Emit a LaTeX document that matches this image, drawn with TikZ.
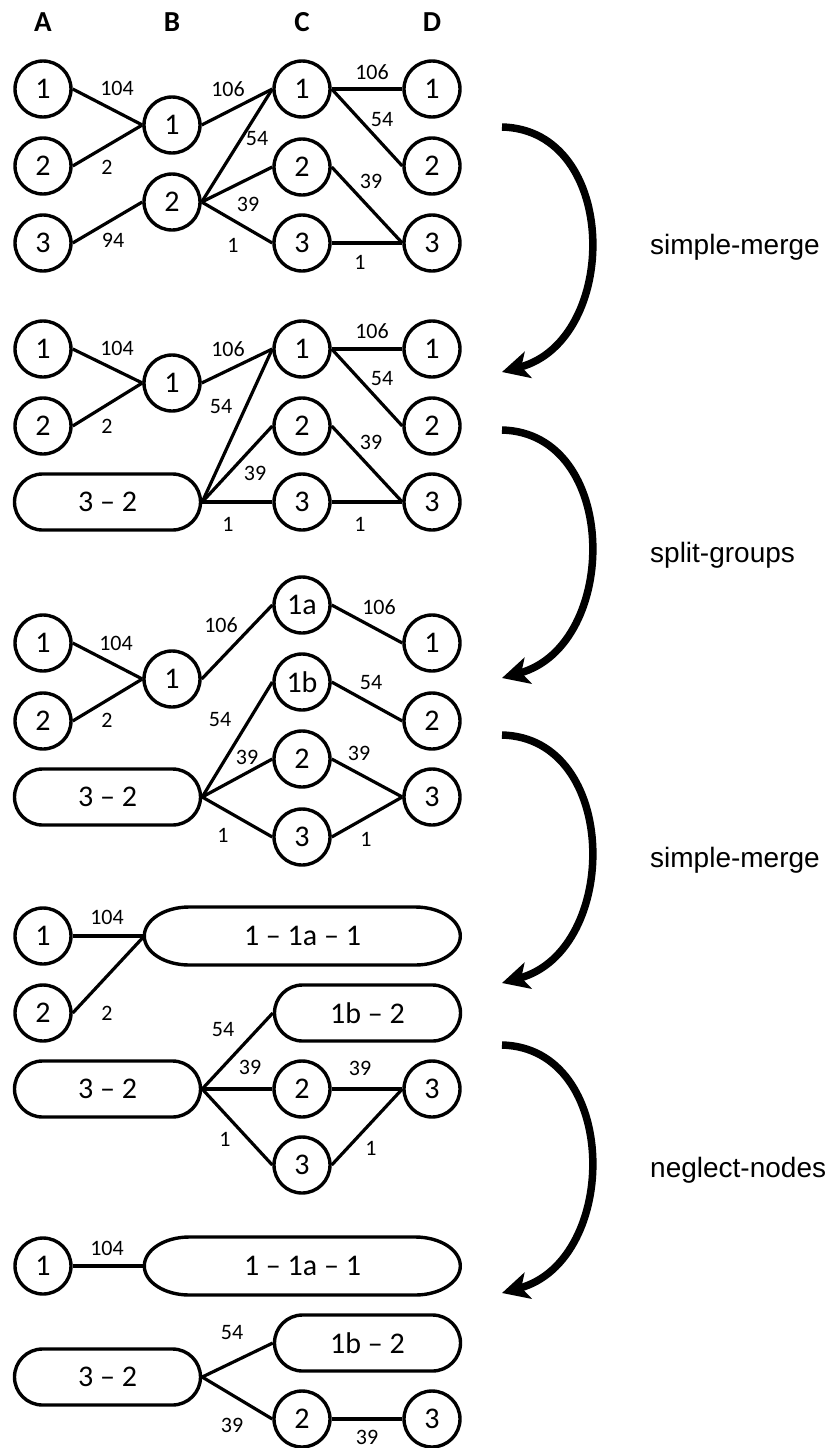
\documentclass[tikz,border=0pt]{standalone}
\usepackage{fontspec}
\setmainfont{Carlito}
\newfontfamily\arialfont{Liberation Sans}
\usetikzlibrary{arrows.meta}
\begin{document}
\begin{tikzpicture}[x=1pt,y=-1pt,
  every node/.style={inner sep=0pt},
  nd/.style={circle,draw,line width=3.4pt,minimum size=56pt,font=\fontsize{30}{32}\selectfont},
  grp/.style={rectangle,draw,line width=3.4pt,rounded corners=28pt,minimum width=186pt,minimum height=56pt,font=\fontsize{30}{32}\selectfont},
  longgrp/.style={rectangle,minimum width=316pt,minimum height=58pt,font=\fontsize{30}{32}\selectfont},
  hdr/.style={font=\bfseries\fontsize{29}{31}\selectfont},
  lbl/.style={font=\fontsize{22}{24}\selectfont},
  edge/.style={line width=3.2pt},
  outline/.style={line width=3.4pt},
  flow/.style={line width=7.5pt,-{Stealth[length=27pt,width=27pt,inset=7pt]}},
  oplabel/.style={anchor=west,font=\arialfont\fontsize{28}{30}\selectfont}
]
\useasboundingbox (0,0) rectangle (832,1448);

% headers
\node[hdr] (hA) at (43,22) {A};
\node[hdr] (hB) at (172,22) {B};
\node[hdr] (hC) at (302,22) {C};
\node[hdr] (hD) at (432,22) {D};

% ---------- panel 1 ----------
\node[nd] (p1a1) at (43,89) {1};
\node[nd] (p1a2) at (43,166) {2};
\node[nd] (p1a3) at (43,243) {3};
\node[nd] (p1b1) at (172,125) {1};
\node[nd] (p1b2) at (172,202) {2};
\node[nd] (p1c1) at (302,89) {1};
\node[nd] (p1c2) at (302,167) {2};
\node[nd] (p1c3) at (302,243) {3};
\node[nd] (p1d1) at (432,89) {1};
\node[nd] (p1d2) at (432,166) {2};
\node[nd] (p1d3) at (432,243) {3};
\draw[edge] (p1a1.east) -- (p1b1.west);
\draw[edge] (p1a2.east) -- (p1b1.west);
\draw[edge] (p1a3.east) -- (p1b2.west);
\draw[edge] (p1b1.east) -- (p1c1.west);
\draw[edge] (p1b2.east) -- (p1c1.west);
\draw[edge] (p1b2.east) -- (p1c2.west);
\draw[edge] (p1b2.east) -- (p1c3.west);
\draw[edge] (p1c1.east) -- (p1d1.west);
\draw[edge] (p1c1.east) -- (p1d2.west);
\draw[edge] (p1c2.east) -- (p1d3.west);
\draw[edge] (p1c3.east) -- (p1d3.west);
\node[lbl] (p1l1) at (117,88) {104};
\node[lbl] (p1l2) at (107,167) {2};
\node[lbl] (p1l3) at (113,240) {94};
\node[lbl] (p1l4) at (228,89) {106};
\node[lbl] (p1l5) at (257,139) {54};
\node[lbl] (p1l6) at (248,204) {39};
\node[lbl] (p1l7) at (233,245) {1};
\node[lbl] (p1l8) at (372,72) {106};
\node[lbl] (p1l9) at (382,120) {54};
\node[lbl] (p1l10) at (371,181) {39};
\node[lbl] (p1l11) at (360,262) {1};

% ---------- panel 2 ----------
\node[nd] (p2a1) at (43,349) {1};
\node[nd] (p2a2) at (43,426) {2};
\node[grp] (p2g) at (107.5,502) {3 – 2};
\node[nd] (p2b1) at (172,383) {1};
\node[nd] (p2c1) at (302,349) {1};
\node[nd] (p2c2) at (302,426) {2};
\node[nd] (p2c3) at (302,502) {3};
\node[nd] (p2d1) at (432,349) {1};
\node[nd] (p2d2) at (432,426) {2};
\node[nd] (p2d3) at (432,502) {3};
\draw[edge] (p2a1.east) -- (p2b1.west);
\draw[edge] (p2a2.east) -- (p2b1.west);
\draw[edge] (p2b1.east) -- (p2c1.west);
\draw[edge] (p2g.east) -- (p2c1.west);
\draw[edge] (p2g.east) -- (p2c2.west);
\draw[edge] (p2g.east) -- (p2c3.west);
\draw[edge] (p2c1.east) -- (p2d1.west);
\draw[edge] (p2c1.east) -- (p2d2.west);
\draw[edge] (p2c2.east) -- (p2d3.west);
\draw[edge] (p2c3.east) -- (p2d3.west);
\node[lbl] (p2l1) at (117,348) {104};
\node[lbl] (p2l2) at (107,426) {2};
\node[lbl] (p2l3) at (228,349) {106};
\node[lbl] (p2l4) at (221,407) {54};
\node[lbl] (p2l5) at (255,473) {39};
\node[lbl] (p2l6) at (228,524) {1};
\node[lbl] (p2l7) at (372,331) {106};
\node[lbl] (p2l8) at (382,379) {54};
\node[lbl] (p2l9) at (371,442) {39};
\node[lbl] (p2l10) at (360,524) {1};

% ---------- panel 3 ----------
\node[nd] (p3a1) at (43,643) {1};
\node[nd] (p3a2) at (43,721) {2};
\node[grp] (p3g) at (107.5,797) {3 – 2};
\node[nd] (p3b1) at (172,679) {1};
\node[nd] (p3c1a) at (302,605) {1a};
\node[nd] (p3c1b) at (302,682) {1b};
\node[nd] (p3c2) at (302,759) {2};
\node[nd] (p3c3) at (302,837) {3};
\node[nd] (p3d1) at (432,643) {1};
\node[nd] (p3d2) at (432,721) {2};
\node[nd] (p3d3) at (432,797) {3};
\draw[edge] (p3a1.east) -- (p3b1.west);
\draw[edge] (p3a2.east) -- (p3b1.west);
\draw[edge] (p3b1.east) -- (p3c1a.west);
\draw[edge] (p3c1a.east) -- (p3d1.west);
\draw[edge] (p3c1b.east) -- (p3d2.west);
\draw[edge] (p3g.east) -- (p3c1b.west);
\draw[edge] (p3g.east) -- (p3c2.west);
\draw[edge] (p3g.east) -- (p3c3.west);
\draw[edge] (p3c2.east) -- (p3d3.west);
\draw[edge] (p3c3.east) -- (p3d3.west);
\node[lbl] (p3l1) at (116,643) {104};
\node[lbl] (p3l2) at (107,720) {2};
\node[lbl] (p3l3) at (221,625) {106};
\node[lbl] (p3l4) at (220,720) {54};
\node[lbl] (p3l5) at (247,757) {39};
\node[lbl] (p3l6) at (223,835) {1};
\node[lbl] (p3l7) at (379,607) {106};
\node[lbl] (p3l8) at (371,683) {54};
\node[lbl] (p3l9) at (359,753) {39};
\node[lbl] (p3l10) at (366,839) {1};

% ---------- panel 4 ----------
\node[nd] (p4a1) at (43,936) {1};
\node[nd] (p4a2) at (43,1013) {2};
\node[grp] (p4g) at (107.5,1089) {3 – 2};
\node[longgrp] (p4L) at (302.5,936) {1 – 1a – 1};
\draw[outline] (p4L.west) arc[start angle=180,end angle=90,x radius=45pt,y radius=29pt]
  -- ++(226,0) arc[start angle=90,end angle=0,x radius=45pt,y radius=29pt]
  arc[start angle=0,end angle=-90,x radius=45pt,y radius=29pt]
  -- ++(-226,0) arc[start angle=-90,end angle=-180,x radius=45pt,y radius=29pt] -- cycle;
\node[grp] (p4m) at (367.5,1013) {1b – 2};
\node[nd] (p4c2) at (302,1089) {2};
\node[nd] (p4c3) at (302,1165) {3};
\node[nd] (p4d3) at (432,1089) {3};
\draw[edge] (p4a1.east) -- (p4L.west);
\draw[edge] (p4a2.east) -- (p4L.west);
\draw[edge] (p4g.east) -- (p4m.west);
\draw[edge] (p4g.east) -- (p4c2.west);
\draw[edge] (p4g.east) -- (p4c3.west);
\draw[edge] (p4c2.east) -- (p4d3.west);
\draw[edge] (p4c3.east) -- (p4d3.west);
\node[lbl] (p4l1) at (107,917) {104};
\node[lbl] (p4l2) at (107,1013) {2};
\node[lbl] (p4l3) at (223,1029) {54};
\node[lbl] (p4l4) at (250,1067) {39};
\node[lbl] (p4l5) at (225,1139) {1};
\node[lbl] (p4l6) at (360,1068) {39};
\node[lbl] (p4l7) at (371,1148) {1};

% ---------- panel 5 ----------
\node[nd] (p5a1) at (43,1266) {1};
\node[longgrp] (p5L) at (302.5,1266) {1 – 1a – 1};
\draw[outline] (p5L.west) arc[start angle=180,end angle=90,x radius=45pt,y radius=29pt]
  -- ++(226,0) arc[start angle=90,end angle=0,x radius=45pt,y radius=29pt]
  arc[start angle=0,end angle=-90,x radius=45pt,y radius=29pt]
  -- ++(-226,0) arc[start angle=-90,end angle=-180,x radius=45pt,y radius=29pt] -- cycle;
\node[grp] (p5m) at (367.5,1343) {1b – 2};
\node[grp] (p5g) at (107.5,1377) {3 – 2};
\node[nd] (p5c2) at (302,1419) {2};
\node[nd] (p5d3) at (432,1419) {3};
\draw[edge] (p5a1.east) -- (p5L.west);
\draw[edge] (p5g.east) -- (p5m.west);
\draw[edge] (p5g.east) -- (p5c2.west);
\draw[edge] (p5c2.east) -- (p5d3.west);
\node[lbl] (p5l1) at (107,1248) {104};
\node[lbl] (p5l2) at (232,1332) {54};
\node[lbl] (p5l3) at (232,1425) {39};
\node[lbl] (p5l4) at (367,1437) {39};

% ---------- transformation arrows ----------
\coordinate (f1s) at (502,127);  \coordinate (f1e) at (502,372);
\coordinate (f2s) at (502,430);  \coordinate (f2e) at (502,678);
\coordinate (f3s) at (502,735);  \coordinate (f3e) at (502,983);
\coordinate (f4s) at (502,1045); \coordinate (f4e) at (502,1293);
\draw[flow] (f1s) .. controls (620,130) and (620,340) .. (f1e);
\draw[flow] (f2s) .. controls (620,433) and (620,645) .. (f2e);
\draw[flow] (f3s) .. controls (620,738) and (620,950) .. (f3e);
\draw[flow] (f4s) .. controls (620,1048) and (620,1260) .. (f4e);
\node[oplabel] (op1) at (650,247) {simple-merge};
\node[oplabel] (op2) at (650,555) {split-groups};
\node[oplabel] (op3) at (650,860) {simple-merge};
\node[oplabel] (op4) at (650,1170) {neglect-nodes};
\end{tikzpicture}
\end{document}
